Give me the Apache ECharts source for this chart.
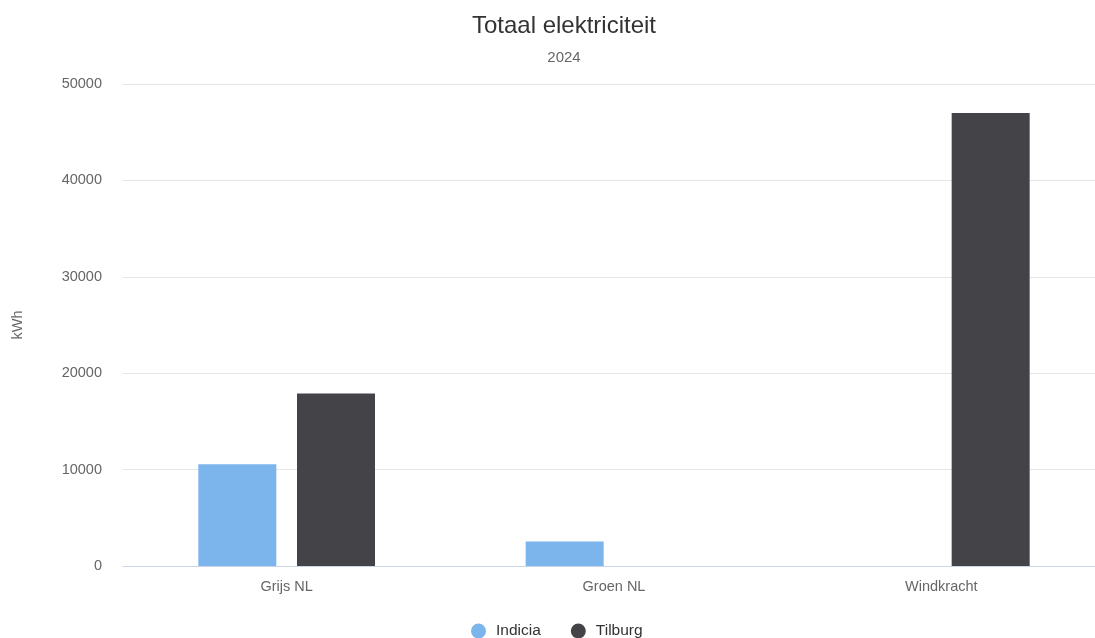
<!DOCTYPE html>
<html>
<head>
<meta charset="utf-8">
<title>Totaal elektriciteit</title>
<script src="https://cdn.jsdelivr.net/npm/echarts@6/dist/echarts.min.js"></script>
<style>
  html, body { margin: 0; padding: 0; background: #ffffff; overflow: hidden; }
  #chart { width: 1128px; height: 638px; }
</style>
</head>
<body>
<div id="chart"></div>
<script>
// Categories and yearly electricity totals per location (kWh)
const categories = ['Grijs NL', 'Groen NL', 'Windkracht'];
const indicia = [10550, 2550, 0];
const tilburg = [17900, 0, 47000];
const yTicks = { min: 0, max: 50000, interval: 10000 };

const FONT = '"Liberation Sans", Arial, Helvetica, sans-serif';

const chart = echarts.init(document.getElementById('chart'), null, { renderer: 'canvas' });

chart.setOption({
  animation: false,
  backgroundColor: '#ffffff',
  textStyle: { fontFamily: FONT },
  title: {
    text: 'Totaal elektriciteit',
    subtext: '2024',
    left: 'center',
    top: 9,
    itemGap: 12,
    textStyle: { fontFamily: FONT, fontSize: 24, fontWeight: 'normal', color: '#333333' },
    subtextStyle: { fontFamily: FONT, fontSize: 15, color: '#666666' }
  },
  legend: {
    data: ['Indicia', 'Tilburg'],
    left: 466,
    top: 618,
    icon: 'circle',
    itemWidth: 15,
    itemHeight: 15,
    itemGap: 30,
    textStyle: { fontFamily: FONT, fontSize: 15.5, color: '#333333', padding: [0, 0, 0, 5] }
  },
  grid: {
    left: 123,
    right: 23,
    top: 84,
    bottom: 72,
    containLabel: false
  },
  xAxis: {
    type: 'category',
    data: categories,
    axisLine: { show: true, lineStyle: { color: '#ccd6eb', width: 1 } },
    axisTick: { show: false },
    axisLabel: { fontFamily: FONT, fontSize: 14.5, color: '#666666', margin: 13 },
    splitLine: { show: false }
  },
  yAxis: {
    type: 'value',
    min: yTicks.min,
    max: yTicks.max,
    interval: yTicks.interval,
    name: 'kWh',
    nameLocation: 'middle',
    nameGap: 98,
    nameTextStyle: { fontFamily: FONT, fontSize: 14.5, color: '#666666' },
    axisLine: { show: false },
    axisTick: { show: false },
    axisLabel: {
      fontFamily: FONT, fontSize: 14.5, color: '#666666', margin: 21,
      formatter: function (v) { return String(v); }
    },
    splitLine: { show: true, lineStyle: { color: '#e6e6e6', width: 1 } }
  },
  series: [
    {
      name: 'Indicia',
      type: 'bar',
      data: indicia,
      barWidth: 78,
      barGap: '26.5%',
      itemStyle: { color: '#7cb5ec' }
    },
    {
      name: 'Tilburg',
      type: 'bar',
      data: tilburg,
      barWidth: 78,
      barGap: '26.5%',
      itemStyle: { color: '#434348' }
    }
  ]
});
</script>
</body>
</html>
